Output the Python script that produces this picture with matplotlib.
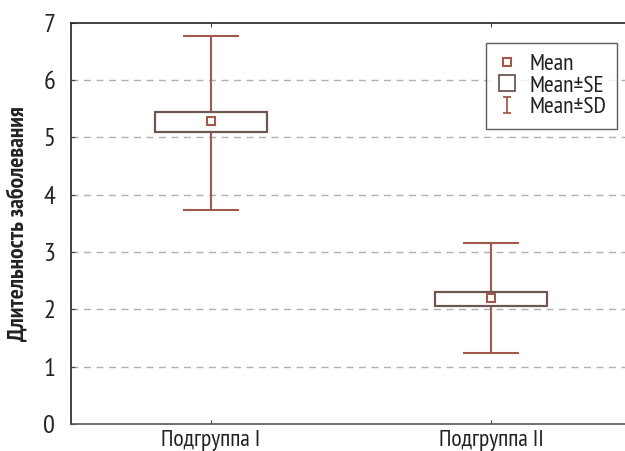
import matplotlib
matplotlib.use("Agg")
import matplotlib.pyplot as plt
from matplotlib.lines import Line2D
from matplotlib.path import Path

plt.rcParams['font.family'] = ['PT Sans Narrow', 'DejaVu Sans']

groups = ['Подгруппа I', 'Подгруппа II']
mean = [5.29, 2.19]
se_lo = [5.09, 2.06]
se_hi = [5.45, 2.30]
sd_lo = [3.74, 1.24]
sd_hi = [6.77, 3.15]
yticks = [0, 1, 2, 3, 4, 5, 6, 7]

red = '#a15a4c'
boxc = '#6e5752'

fig = plt.figure(figsize=(6.25, 4.51), dpi=100)
ax = fig.add_axes([0.1128, 0.0599, 0.8976, 0.8898])

x = list(range(len(groups)))
ax.errorbar(x, mean, yerr=[[m - l for m, l in zip(mean, sd_lo)],
                           [h - m for m, h in zip(mean, sd_hi)]],
            fmt='none', ecolor=red, elinewidth=1.5, capsize=20.5,
            capthick=1.5, zorder=2)
ax.bar(x, [h - l for h, l in zip(se_hi, se_lo)], bottom=se_lo, width=0.4,
       facecolor='white', edgecolor=boxc, linewidth=1.6, zorder=3)
ax.plot(x, mean, ls='none', marker='s', ms=6, mfc='white', mec=red,
        mew=1.5, zorder=4)

ax.set_xlim(-0.5, 1.5)
ax.set_ylim(0, 7)
ax.set_xticks(x)
ax.set_xticklabels(groups, fontsize=17, color='#222222')
ax.set_yticks(yticks)
ax.set_yticklabels([str(t) for t in yticks], fontsize=19, color='#222222')
ax.tick_params(direction='in', length=3, width=0.8, color='#444444')
ax.tick_params(axis='y', pad=11)
ax.tick_params(axis='x', pad=4, top=True)
for t in yticks[1:-1]:
    ax.axhline(t, color='#b0b0b0', ls=(0, (5, 4)), lw=1.0, zorder=1)
for s in ax.spines.values():
    s.set_color('#222222')
    s.set_linewidth(1.2)
ax.spines['bottom'].set_color('#555555')
ax.set_ylabel('Длительность заболевания', fontsize=17, fontweight='bold',
              labelpad=10, color='#222222')

# legend handles: mean square, SE box, SD "I" bar
ibar = Path([(-0.5, -1), (0.5, -1), (0, -1), (0, 1), (-0.5, 1), (0.5, 1)],
            [Path.MOVETO, Path.LINETO, Path.MOVETO, Path.LINETO,
             Path.MOVETO, Path.LINETO])
handles = [
    Line2D([], [], ls='none', marker='s', ms=5.5, mfc='white', mec=red, mew=1.5),
    Line2D([], [], ls='none', marker='s', ms=11, mfc='white', mec=boxc, mew=1.3),
    Line2D([], [], ls='none', marker=ibar, ms=11, mec=red, mew=1.3),
]
leg = fig.legend(handles, ['Mean', 'Mean±SE', 'Mean±SD'], loc='upper right',
                 bbox_to_anchor=(617 / 625, 1 - 43 / 451), fontsize=17,
                 frameon=True, fancybox=False, handlelength=0.9,
                 handletextpad=0.5, labelspacing=0.0, borderpad=0.45,
                 borderaxespad=0)
leg.get_frame().set_edgecolor('#333333')
leg.get_frame().set_linewidth(1.0)
for t in leg.get_texts():
    t.set_color('#222222')

fig.savefig('out.png', dpi=100)
